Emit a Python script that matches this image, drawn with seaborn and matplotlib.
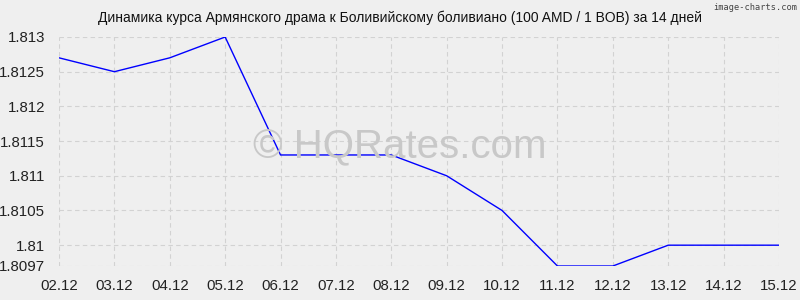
import matplotlib
matplotlib.use("Agg")
import matplotlib.pyplot as plt
import seaborn as sns
import pandas as pd

dates = ["02.12", "03.12", "04.12", "05.12", "06.12", "07.12", "08.12",
         "09.12", "10.12", "11.12", "12.12", "13.12", "14.12", "15.12"]
rates = [1.8127, 1.8125, 1.8127, 1.8130, 1.8113, 1.8113, 1.8113,
         1.8110, 1.8105, 1.8097, 1.8097, 1.8100, 1.8100, 1.8100]
y_ticks = [1.8097, 1.81, 1.8105, 1.811, 1.8115, 1.812, 1.8125, 1.813]
y_labels = ["1.8097", "1.81", "1.8105", "1.811", "1.8115", "1.812", "1.8125", "1.813"]
title = "Динамика курса Армянского драма к Боливийскому боливиано (100 AMD / 1 BOB) за 14 дней"

sns.set_theme(style="white")
plt.rcParams['font.family'] = ['Liberation Sans', 'DejaVu Sans']

bg = "#efefef"
fig = plt.figure(figsize=(8, 3), dpi=100, facecolor=bg)
ax = fig.add_axes([59/800, 1 - 266/300, 720/800, 229/300])
ax.set_facecolor(bg)

df = pd.DataFrame({"x": range(len(dates)), "rate": rates})
sns.lineplot(data=df, x="x", y="rate", ax=ax, color="#0000ff", linewidth=1.0)

ax.set_xlim(0, len(dates) - 1)
ax.set_ylim(1.8097, 1.813)
ax.set_xticks(range(len(dates)))
ax.set_xticklabels(dates)
ax.set_yticks(y_ticks)
ax.set_yticklabels(y_labels)
ax.set_xlabel("")
ax.set_ylabel("")
ax.grid(True, color="#d2d2d2", linestyle=(0, (4, 3)), linewidth=0.8)
ax.set_axisbelow(True)
for s in ax.spines.values():
    s.set_visible(False)
ax.tick_params(axis="both", color="#d2d2d2", labelsize=10.8, colors="#222222")
ax.tick_params(axis="x", length=2, pad=7)
ax.tick_params(axis="y", length=6, pad=4)
ax.tick_params(axis="both", labelcolor="#222222")

fig.text(0.5, 1 - 147/300, "© HQRates.com", ha="center", va="center",
         fontsize=29, color="#c8c8c8", zorder=0)
fig.text(0.5, 1 - 18/300, title, ha="center", va="center", fontsize=10, color="#111111")
fig.text(797/800, 1 - 7/300, "image-charts.com", ha="right", va="center", fontsize=6.2,
         color="#444444", family=["DejaVu Sans Mono", "DejaVu Sans"])

fig.savefig("out.png", dpi=100, facecolor=bg)
